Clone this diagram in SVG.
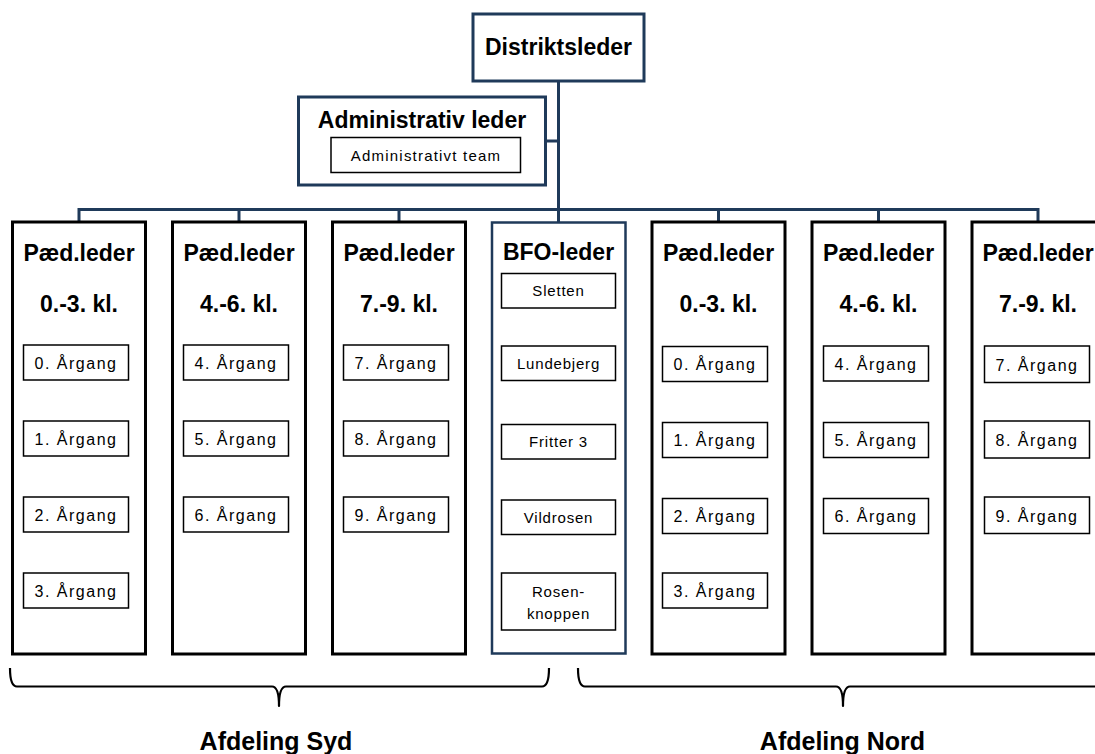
<svg xmlns="http://www.w3.org/2000/svg" width="1095" height="754" viewBox="0 0 1095 754">
<style>
.bg{fill:#ffffff}
.top{fill:#ffffff;stroke:#1F3A5A;stroke-width:3}
.col{fill:#ffffff;stroke:#000000;stroke-width:3}
.bfo{fill:#ffffff;stroke:#1F3A5A;stroke-width:2.5}
.sub{fill:#ffffff;stroke:#000000;stroke-width:1.5}
.conn{fill:none;stroke:#1F3A5A;stroke-width:3}
.brace{fill:none;stroke:#000000;stroke-width:2.2;stroke-linejoin:round}
.h{font-family:"Liberation Sans",Arial,sans-serif;font-weight:bold;font-size:23px;fill:#000;text-anchor:middle}
.big{font-family:"Liberation Sans",Arial,sans-serif;font-weight:bold;font-size:25px;fill:#000;text-anchor:middle}
.yr{font-family:"Liberation Sans",Arial,sans-serif;font-size:16px;letter-spacing:1.5px;fill:#000;text-anchor:middle}
.bt{font-family:"Liberation Sans",Arial,sans-serif;font-size:15px;letter-spacing:0.8px;fill:#000;text-anchor:middle}
.at{font-family:"Liberation Sans",Arial,sans-serif;font-size:15px;letter-spacing:1.2px;fill:#000;text-anchor:middle}
</style>
<rect class="bg" x="0" y="0" width="1095" height="754"/>

<g id="connectors">
<path class="conn" d="M558.5,81 V209.5"/>
<path class="conn" d="M545.5,141 H558.5"/>
<path class="conn" d="M79,222 V209.5 H1038 V222"/>
<path class="conn" d="M239,209.5 V222"/>
<path class="conn" d="M399,209.5 V222"/>
<path class="conn" d="M558.5,209.5 V222"/>
<path class="conn" d="M718.5,209.5 V222"/>
<path class="conn" d="M878.5,209.5 V222"/>
</g>

<g id="distriktsleder">
<rect class="top" x="473" y="14" width="171" height="67"/>
<text class="h" x="558.5" y="55">Distriktsleder</text>
</g>

<g id="administrativ-leder">
<rect class="top" x="298.5" y="97" width="247" height="88"/>
<text class="h" x="422" y="128">Administrativ leder</text>
<rect class="sub" x="331" y="137.5" width="189.5" height="35"/>
<text class="at" x="426" y="161">Administrativt team</text>
</g>

<g id="paed-syd-0-3">
<rect class="col" x="12.5" y="222" width="133" height="432"/>
<text class="h" x="79" y="261">Pæd.leder</text>
<text class="h" x="79" y="312">0.-3. kl.</text>
<rect class="sub" x="23.5" y="345" width="105" height="35"/><text class="yr" x="76" y="369">0. Årgang</text>
<rect class="sub" x="23.5" y="421" width="105" height="35"/><text class="yr" x="76" y="445">1. Årgang</text>
<rect class="sub" x="23.5" y="497" width="105" height="35"/><text class="yr" x="76" y="521">2. Årgang</text>
<rect class="sub" x="23.5" y="573" width="105" height="35"/><text class="yr" x="76" y="597">3. Årgang</text>
</g>

<g id="paed-syd-4-6">
<rect class="col" x="172.5" y="222" width="133" height="432"/>
<text class="h" x="239" y="261">Pæd.leder</text>
<text class="h" x="239" y="312">4.-6. kl.</text>
<rect class="sub" x="183.5" y="345" width="105" height="35"/><text class="yr" x="236" y="369">4. Årgang</text>
<rect class="sub" x="183.5" y="421" width="105" height="35"/><text class="yr" x="236" y="445">5. Årgang</text>
<rect class="sub" x="183.5" y="497" width="105" height="35"/><text class="yr" x="236" y="521">6. Årgang</text>
</g>

<g id="paed-syd-7-9">
<rect class="col" x="332.5" y="222" width="133" height="432"/>
<text class="h" x="399" y="261">Pæd.leder</text>
<text class="h" x="399" y="312">7.-9. kl.</text>
<rect class="sub" x="343.5" y="345" width="105" height="35"/><text class="yr" x="396" y="369">7. Årgang</text>
<rect class="sub" x="343.5" y="421" width="105" height="35"/><text class="yr" x="396" y="445">8. Årgang</text>
<rect class="sub" x="343.5" y="497" width="105" height="35"/><text class="yr" x="396" y="521">9. Årgang</text>
</g>

<g id="bfo-leder">
<rect class="bfo" x="492" y="222.5" width="133.5" height="431"/>
<text class="h" x="558.5" y="260">BFO-leder</text>
<rect class="sub" x="501.5" y="273.5" width="114" height="34.5"/><text class="bt" x="558.5" y="296">Sletten</text>
<rect class="sub" x="501.5" y="346" width="114" height="34.5"/><text class="bt" x="558.5" y="368.5">Lundebjerg</text>
<rect class="sub" x="501.5" y="424.5" width="114" height="34.5"/><text class="bt" x="558.5" y="447">Fritter 3</text>
<rect class="sub" x="501.5" y="500" width="114" height="34.5"/><text class="bt" x="558.5" y="522.5">Vildrosen</text>
<rect class="sub" x="501.5" y="573" width="114" height="57"/><text class="bt" x="558.5" y="597">Rosen-</text><text class="bt" x="558.5" y="619">knoppen</text>
</g>

<g id="paed-nord-0-3">
<rect class="col" x="652" y="222" width="133" height="432"/>
<text class="h" x="718.5" y="261">Pæd.leder</text>
<text class="h" x="718.5" y="312">0.-3. kl.</text>
<rect class="sub" x="662.5" y="346.5" width="105" height="35"/><text class="yr" x="715" y="370">0. Årgang</text>
<rect class="sub" x="662.5" y="422.5" width="105" height="35"/><text class="yr" x="715" y="446">1. Årgang</text>
<rect class="sub" x="662.5" y="498.5" width="105" height="35"/><text class="yr" x="715" y="522">2. Årgang</text>
<rect class="sub" x="662.5" y="573" width="105" height="35"/><text class="yr" x="715" y="597">3. Årgang</text>
</g>

<g id="paed-nord-4-6">
<rect class="col" x="812" y="222" width="133" height="432"/>
<text class="h" x="878.5" y="261">Pæd.leder</text>
<text class="h" x="878.5" y="312">4.-6. kl.</text>
<rect class="sub" x="823.5" y="346" width="105" height="35"/><text class="yr" x="876" y="369.5">4. Årgang</text>
<rect class="sub" x="823.5" y="422.5" width="105" height="35"/><text class="yr" x="876" y="446">5. Årgang</text>
<rect class="sub" x="823.5" y="498.5" width="105" height="35"/><text class="yr" x="876" y="522">6. Årgang</text>
</g>

<g id="paed-nord-7-9">
<rect class="col" x="972" y="222" width="133" height="432"/>
<text class="h" x="1038" y="261">Pæd.leder</text>
<text class="h" x="1038" y="312">7.-9. kl.</text>
<rect class="sub" x="984.5" y="346" width="105" height="36.5"/><text class="yr" x="1037" y="370.5">7. Årgang</text>
<rect class="sub" x="984.5" y="421" width="105" height="37"/><text class="yr" x="1037" y="445.5">8. Årgang</text>
<rect class="sub" x="984.5" y="497" width="105" height="36.5"/><text class="yr" x="1037" y="521.5">9. Årgang</text>
</g>

<g id="afdeling-syd">
<path class="brace" d="M10,668 Q10,686.5 17,686.5 L272,686.5 Q279,686.5 279,706 Q279,686.5 286,686.5 L542,686.5 Q549,686.5 549,668"/>
<text class="big" x="276" y="750">Afdeling Syd</text>
</g>

<g id="afdeling-nord">
<path class="brace" d="M578,668 Q578,686.5 585,686.5 L836,686.5 Q843,686.5 843,706 Q843,686.5 850,686.5 L1100,686.5"/>
<text class="big" x="842.5" y="750">Afdeling Nord</text>
</g>
</svg>
